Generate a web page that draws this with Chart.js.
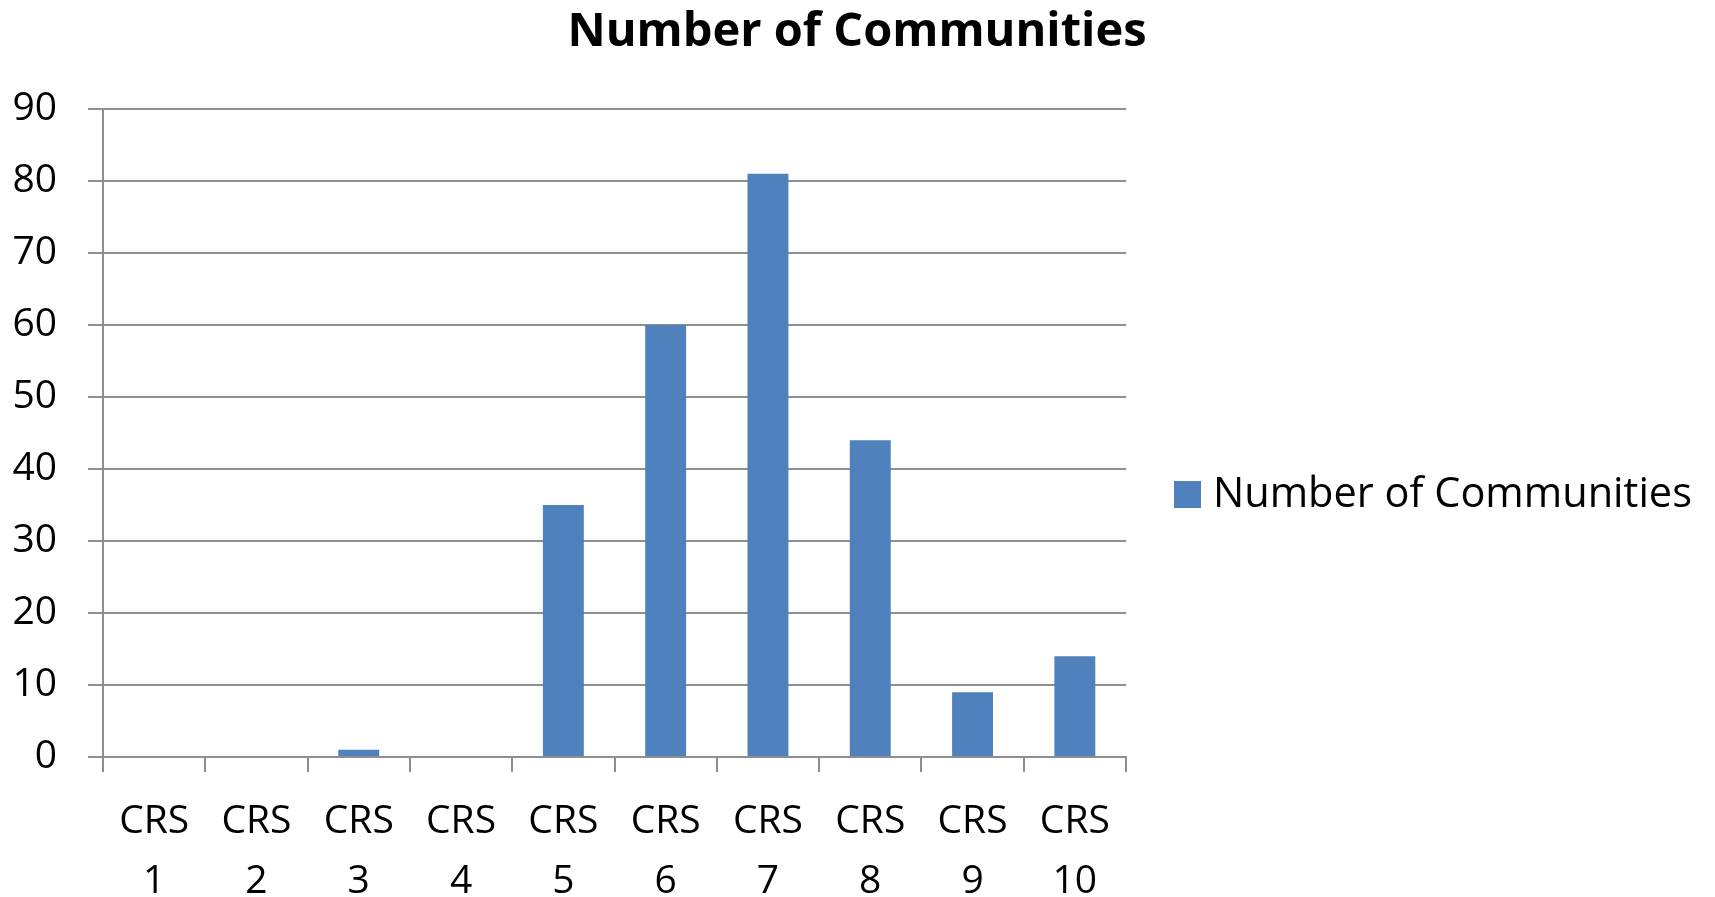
<!DOCTYPE html>
<html>
<head>
<meta charset="utf-8">
<title>Number of Communities</title>
<script src="https://cdn.jsdelivr.net/npm/chart.js@4/dist/chart.umd.min.js"></script>
<style>
    body { margin: 0; background: #ffffff; }
    #wrap { width: 1715px; height: 897px; }
</style>
</head>
<body>
<div id="wrap"><canvas id="communityChart" width="1715" height="897"></canvas></div>
<script>
const chartTitle = "Number of Communities";
const seriesName = "Number of Communities";
const categories = [["CRS", "1"], ["CRS", "2"], ["CRS", "3"], ["CRS", "4"], ["CRS", "5"],
                    ["CRS", "6"], ["CRS", "7"], ["CRS", "8"], ["CRS", "9"], ["CRS", "10"]];
const communityCounts = [0, 0, 1, 0, 35, 60, 81, 44, 9, 14];

const barColor = "#4F81BD";
const gridColor = "#8e8e8e";
const fontName = "'Open Sans'";

// title and legend are drawn by hand so they can sit where the original has them
const titleAndLegend = {
    id: "titleAndLegend",
    afterDraw(chart) {
        const ctx = chart.ctx;
        ctx.save();
        ctx.fillStyle = "#000000";
        ctx.textBaseline = "middle";

        ctx.font = "bold 47px " + fontName;
        ctx.textAlign = "center";
        ctx.fillText(chartTitle, 857, 33);

        const ds = chart.data.datasets[0];
        ctx.fillStyle = ds.backgroundColor;
        ctx.fillRect(1174, 481, 27, 27);
        ctx.fillStyle = "#000000";
        ctx.font = "41.5px " + fontName;
        ctx.textAlign = "left";
        ctx.fillText(ds.label, 1213, 495);
        ctx.restore();
    }
};

const ctx = document.getElementById("communityChart").getContext("2d");
new Chart(ctx, {
    type: "bar",
    data: {
        labels: categories,
        datasets: [{
            label: seriesName,
            data: communityCounts,
            backgroundColor: barColor,
            barPercentage: 0.4,
            categoryPercentage: 1.0
        }]
    },
    options: {
        responsive: false,
        animation: false,
        layout: { padding: { top: 109, right: 589, bottom: 0, left: 0 } },
        plugins: {
            legend: { display: false },
            title: { display: false },
            tooltip: { enabled: false }
        },
        scales: {
            x: {
                offset: true,
                grid: {
                    offset: true,
                    drawOnChartArea: false,
                    drawTicks: true,
                    tickLength: 15,
                    color: gridColor,
                    lineWidth: 2
                },
                border: { display: true, color: gridColor, width: 2 },
                ticks: {
                    color: "#000000",
                    padding: 20,
                    maxRotation: 0,
                    autoSkip: false,
                    font: { family: fontName, size: 39, lineHeight: 1.54 }
                },
                afterFit(scale) { scale.height = 140; }
            },
            y: {
                min: 0,
                max: 90,
                grid: {
                    color: gridColor,
                    lineWidth: 2,
                    tickLength: 15
                },
                border: { display: true, color: gridColor, width: 2 },
                ticks: {
                    stepSize: 10,
                    color: "#000000",
                    padding: 31,
                    font: { family: fontName, size: 39 }
                },
                afterFit(scale) { scale.width = 103; }
            }
        }
    },
    plugins: [titleAndLegend]
});
</script>
</body>
</html>
